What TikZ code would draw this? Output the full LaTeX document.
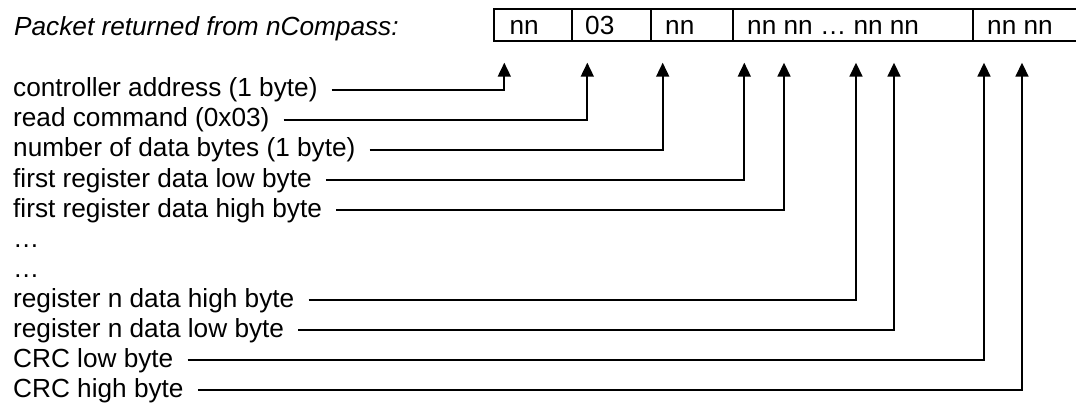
\documentclass[tikz,border=0pt]{standalone}
\usepackage{fontspec}
\setmainfont{Liberation Sans}
\usetikzlibrary{arrows.meta}
\begin{document}
\begin{tikzpicture}[x=1pt,y=-1pt,
  lbl/.style={anchor=base west, inner sep=0pt, font=\fontsize{26.2}{30}\selectfont},
  ttl/.style={lbl, font=\fontsize{26.2}{30}\selectfont\itshape},
  cell/.style={draw, line width=1.8pt, anchor=north west, minimum height=32pt, inner sep=0pt},
  conn/.style={line width=1.7pt, -{Triangle[length=14pt,width=13pt]}}
]
\useasboundingbox (0,0) rectangle (1076,409);
% title
\node[ttl] (title) at (14,36) {Packet returned from nCompass:};
% packet cells
\node[cell, minimum width=78pt]   (c1) at (492.7,8) {};
\node[cell, minimum width=79.3pt] (c2) at (570.7,8) {};
\node[cell, minimum width=81.7pt] (c3) at (650,8) {};
\node[cell, minimum width=240pt]  (c4) at (731.7,8) {};
\node[cell, minimum width=120pt]  (c5) at (971.7,8) {};
\node[lbl] (t1) at (509.3,35) {nn};
\node[lbl] (t2) at (585,35) {03};
\node[lbl] (t3) at (665,35) {nn};
\node[lbl] (t4) at (747,35) {nn nn … nn nn};
\node[lbl] (t5) at (987,35) {nn nn};
% field labels
\node[lbl] (r0)  at (13,97)  {controller address (1 byte)};
\node[lbl] (r1)  at (13,127) {read command (0x03)};
\node[lbl] (r2)  at (13,157) {number of data bytes (1 byte)};
\node[lbl] (r3)  at (13,187) {first register data low byte};
\node[lbl] (r4)  at (13,217) {first register data high byte};
\node[lbl] (r5)  at (13,247) {…};
\node[lbl] (r6)  at (13,277) {…};
\node[lbl] (r7)  at (13,307) {register n data high byte};
\node[lbl] (r8)  at (13,337) {register n data low byte};
\node[lbl] (r9)  at (13,367) {CRC low byte};
\node[lbl] (r10) at (13,397) {CRC high byte};
% arrow tips
\coordinate (a0)  at (504.3,62.7);
\coordinate (a1)  at (587.3,62.7);
\coordinate (a2)  at (662.7,62.7);
\coordinate (a3)  at (744.3,62.7);
\coordinate (a4)  at (784,62.7);
\coordinate (a7)  at (856,62.7);
\coordinate (a8)  at (894,62.7);
\coordinate (a9)  at (984,62.7);
\coordinate (a10) at (1022,62.7);
% connectors
\foreach \i in {0,1,2,3,4,7,8,9,10}
  \draw[conn] ([xshift=14pt]r\i.east) -| (a\i);
\end{tikzpicture}
\end{document}
